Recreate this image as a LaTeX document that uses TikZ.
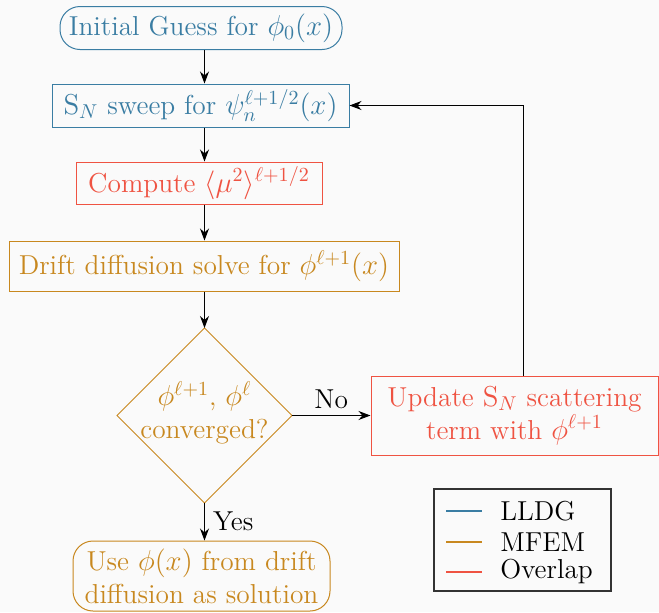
\documentclass[tikz,border=0pt]{standalone}
\usetikzlibrary{shapes.geometric,arrows.meta}
\definecolor{cblue}{RGB}{58,125,163}
\definecolor{corange}{RGB}{200,136,31}
\definecolor{cred}{RGB}{239,83,66}
\definecolor{bgc}{RGB}{250,250,250}
\begin{document}
\begin{tikzpicture}[x=0.5pt,y=-0.5pt,
  font=\fontsize{13.7}{16.5}\selectfont,
  box/.style={draw, line width=0.5pt, align=center, inner sep=0pt},
  pill/.style={box, rounded corners=10pt},
  arr/.style={-{Stealth[length=6pt,width=4.5pt]}, line width=0.5pt, black},
  lg/.style={line width=0.9pt}]
\fill[bgc] (0,0) rectangle (659,612);
\useasboundingbox (0,0) rectangle (659,612);

\node[pill, cblue, minimum width=141pt, minimum height=21.5pt] (init) at (201,28) {Initial Guess for $\phi_0(x)$};
\node[box, cblue, minimum width=148.5pt, minimum height=21.5pt] (sweep) at (200.5,105.5) {$\mathrm{S}_N$ sweep for $\psi_n^{\ell+1/2}(x)$};
\node[box, cred, minimum width=123pt, minimum height=21pt] (comp) at (199,183) {Compute $\langle\mu^2\rangle^{\ell+1/2}$};
\node[box, corange, minimum width=195pt, minimum height=25pt] (drift) at (204,266) {Drift diffusion solve for $\phi^{\ell+1}(x)$};

\coordinate (dN) at (204.5,328);
\coordinate (dE) at (292,415.5);
\coordinate (dS) at (204.5,503);
\coordinate (dW) at (117,415.5);
\draw[corange, line width=0.5pt] (dN) -- (dE) -- (dS) -- (dW) -- cycle;
\node[corange, align=center, inner sep=0pt] (dia) at (204.5,413) {$\phi^{\ell+1}$, $\phi^{\ell}$\\converged?};

\node[box, cred, minimum width=143.5pt, minimum height=39.5pt] (upd) at (514.5,415.5) {Update $\mathrm{S}_N$ scattering\\term with $\phi^{\ell+1}$};
\node[pill, corange, minimum width=128.5pt, minimum height=35pt] (final) at (201.5,576) {Use $\phi(x)$ from drift\\diffusion as solution};

\draw[arr] (dN |- init.south) -- (dN |- sweep.north);
\draw[arr] (dN |- sweep.south) -- (dN |- comp.north);
\draw[arr] (dN |- comp.south) -- (dN |- drift.north);
\draw[arr] (dN |- drift.south) -- (dN);
\draw[arr] (dE) -- node[above, inner sep=3pt] {No} (upd.west);
\draw[arr] (dS) -- node[right, inner sep=4pt] {Yes} (dS |- final.north);
\draw[arr] ([xshift=4.5pt]upd.north) |- (sweep.east);

\node[draw=black!80, line width=0.6pt, minimum width=88.5pt, minimum height=51pt, inner sep=0pt] (leg) at (522.5,540) {};
\coordinate (l1) at (446,511);
\coordinate (l2) at (446,542);
\coordinate (l3) at (446,572);
\draw[lg, cblue] (l1) -- ++(36,0);
\draw[lg, corange] (l2) -- ++(36,0);
\draw[lg, cred] (l3) -- ++(36,0);
\node[anchor=west, inner sep=0pt] at (500,511) {LLDG};
\node[anchor=west, inner sep=0pt] at (500,542) {MFEM};
\node[anchor=west, inner sep=0pt] at (500,572) {Overlap};
\end{tikzpicture}
\end{document}
